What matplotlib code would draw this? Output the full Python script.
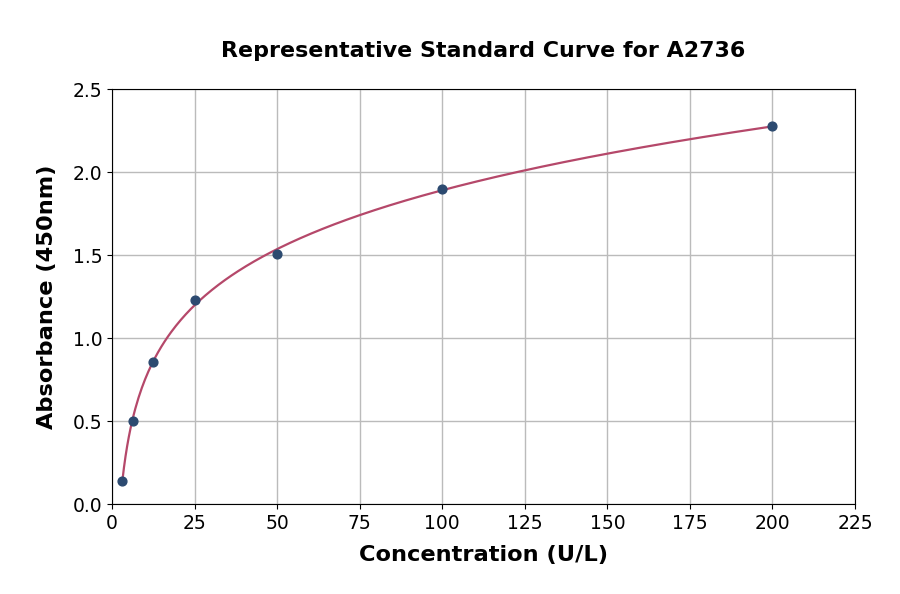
import numpy as np
import matplotlib.pyplot as plt

conc = [3.125, 6.25, 12.5, 25, 50, 100, 200]
absorb = [0.14, 0.50, 0.855, 1.23, 1.505, 1.90, 2.275]

# smooth fit in log space
coef = np.polyfit(np.log(conc), absorb, 3)
xs = np.linspace(min(conc), max(conc), 400)
ys = np.polyval(coef, np.log(xs))

fig = plt.figure(figsize=(9, 5.94), dpi=100)
ax = fig.add_axes([0.1244, 0.1515, 0.8256, 0.6985])

ax.plot(xs, ys, color='#b5486a', lw=1.6, zorder=2)
ax.scatter(conc, absorb, s=40, color='#2c4a70', zorder=3)

ax.set_xlim(0, 225)
ax.set_ylim(0, 2.5)
ax.set_xticks(range(0, 226, 25))
ax.set_yticks(np.arange(0, 2.51, 0.5))
ax.grid(True, color='#bbbbbb', lw=1)
ax.set_axisbelow(True)
ax.tick_params(labelsize=13.5)

ax.set_title('Representative Standard Curve for A2736', fontsize=15.9, fontweight='bold', pad=23)
ax.set_xlabel('Concentration (U/L)', fontsize=16.2, fontweight='bold', labelpad=9)
ax.set_ylabel('Absorbance (450nm)', fontsize=16.2, fontweight='bold', labelpad=11)

fig.savefig('out.png', dpi=100)
